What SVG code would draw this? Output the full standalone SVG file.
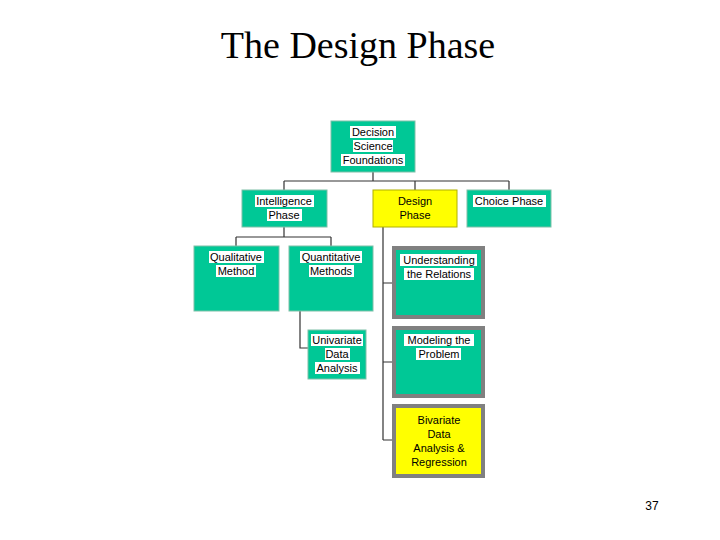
<svg xmlns="http://www.w3.org/2000/svg" width="720" height="540" viewBox="0 0 720 540">
<style>
.t{fill:#00C896;stroke:#7fbfa8;stroke-width:1}
.y{fill:#FFFF00;stroke:#b0b000;stroke-width:1}
.g{stroke:#808080;stroke-width:4}
.l{font-family:"Liberation Sans",Arial,sans-serif;font-size:11px;fill:#000;text-anchor:middle}
.bg{fill:#fff}
.c{fill:none;stroke:#333;stroke-width:1.2}
</style>
<rect width="720" height="540" fill="#fff"/>
<text x="358" y="58" font-family="Liberation Serif,serif" font-size="38" text-anchor="middle">The Design Phase</text>
<text x="652" y="510" font-family="Liberation Sans,sans-serif" font-size="12" text-anchor="middle">37</text>
<g id="connectors">
<path class="c" d="M373 172V181M284 181H509M284 181V190M415 181V190M509 181V190"/>
<path class="c" d="M284 227V237M236 237H331M236 237V246M331 237V246"/>
<path class="c" d="M300 311V348H308"/>
<path class="c" stroke="#999" d="M383 227V440M383 283H393M383 362H393M383 440H393"/>
</g>
<g id="root"><rect class="t" x="331" y="121" width="84" height="51"/>
<rect class="bg" x="350" y="126" width="46" height="12"/><rect class="bg" x="353" y="140" width="40" height="12"/><rect class="bg" x="341" y="154" width="64" height="12"/>
<text class="l" x="373" y="136">Decision</text><text class="l" x="373" y="150">Science</text><text class="l" x="373" y="164">Foundations</text></g>
<g id="intel"><rect class="t" x="242" y="190" width="85" height="37"/>
<rect class="bg" x="255" y="195" width="59" height="12"/><rect class="bg" x="267" y="209" width="35" height="12"/>
<text class="l" x="284" y="205">Intelligence</text><text class="l" x="284" y="219">Phase</text></g>
<g id="design"><rect class="y" x="373" y="190" width="84" height="37"/>
<text class="l" x="415" y="205">Design</text><text class="l" x="415" y="219">Phase</text></g>
<g id="choice"><rect class="t" x="467" y="190" width="84" height="37"/>
<rect class="bg" x="473" y="195" width="73" height="12"/>
<text class="l" x="509" y="205">Choice Phase</text></g>
<g id="qual"><rect class="t" x="194" y="246" width="85" height="65"/>
<rect class="bg" x="209" y="251" width="55" height="12"/><rect class="bg" x="216" y="265" width="40" height="12"/>
<text class="l" x="236" y="261">Qualitative</text><text class="l" x="236" y="275">Method</text></g>
<g id="quant"><rect class="t" x="289" y="246" width="84" height="65"/>
<rect class="bg" x="300" y="251" width="62" height="12"/><rect class="bg" x="309" y="265" width="45" height="12"/>
<text class="l" x="331" y="261">Quantitative</text><text class="l" x="331" y="275">Methods</text></g>
<g id="univ"><rect class="t" x="308" y="330" width="58" height="49"/>
<rect class="bg" x="311" y="334" width="52" height="12"/><rect class="bg" x="325" y="348" width="25" height="12"/><rect class="bg" x="315" y="362" width="45" height="12"/>
<text class="l" x="337" y="344">Univariate</text><text class="l" x="337" y="358">Data</text><text class="l" x="337" y="372">Analysis</text></g>
<g id="under"><rect class="t g" x="394" y="248" width="89" height="69"/>
<rect class="bg" x="400" y="254" width="77" height="12"/><rect class="bg" x="404" y="268" width="70" height="12"/>
<text class="l" x="439" y="264">Understanding</text><text class="l" x="439" y="278">the Relations</text></g>
<g id="model"><rect class="t g" x="394" y="328" width="89" height="68"/>
<rect class="bg" x="404" y="334" width="70" height="12"/><rect class="bg" x="416" y="348" width="45" height="12"/>
<text class="l" x="439" y="344">Modeling the</text><text class="l" x="439" y="358">Problem</text></g>
<g id="bivar"><rect class="y g" x="394" y="406" width="89" height="70"/>
<text class="l" x="439" y="424">Bivariate</text><text class="l" x="439" y="438">Data</text><text class="l" x="439" y="452">Analysis &amp;</text><text class="l" x="439" y="466">Regression</text></g>
</svg>
